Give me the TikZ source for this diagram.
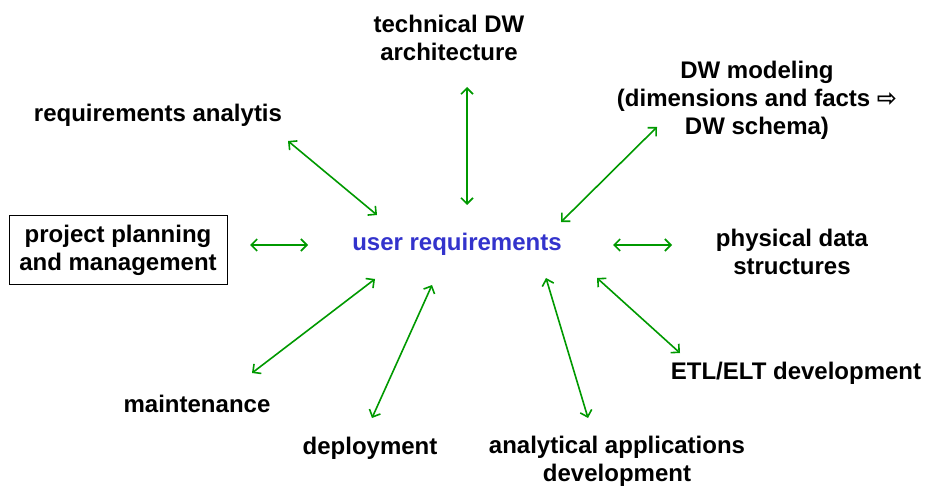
\documentclass[tikz,border=0pt]{standalone}
\usepackage{fontspec}
\setmainfont{Liberation Sans}
\newfontfamily\symfont{DejaVu Sans}
\usetikzlibrary{arrows.meta}
\definecolor{arrgreen}{RGB}{0,153,0}
\definecolor{ublue}{RGB}{51,51,204}
\tikzset{
  lbl/.style={font=\bfseries\fontsize{24}{28}\selectfont, align=center, inner sep=0pt},
  conn/.style={draw=arrgreen, line width=1.6pt, {Straight Barb[length=6pt,width=12pt]}-{Straight Barb[length=6pt,width=12pt]}}
}
\begin{document}
\begin{tikzpicture}[x=1pt,y=-1pt]
\useasboundingbox (0,0) rectangle (927,489);
\node[lbl] (tech) at (449,38) {technical DW\\architecture};
\node[lbl] (req) at (158,115) {requirements analytis};
\node[lbl] (dwm) at (757,100) {DW modeling\\(dimensions and facts {\symfont\bfseries ⇨}\\DW schema)};
\node[lbl, draw, line width=0.8pt, minimum width=218pt, minimum height=69pt] (proj) at (118,250) {project planning\\and management};
\node[lbl, text=ublue] (user) at (457,244) {user requirements};
\node[lbl] (phys) at (792,252) {physical data\\structures};
\node[lbl] (etl) at (796,373) {ETL/ELT development};
\node[lbl] (maint) at (197,404) {maintenance};
\node[lbl] (depl) at (370,448) {deployment};
\node[lbl] (anal) at (617,461) {analytical applications\\development};
\coordinate (a1) at (288,141); \coordinate (b1) at (377,215);
\coordinate (a2) at (467,87);  \coordinate (b2) at (467,205);
\coordinate (a3) at (657,127); \coordinate (b3) at (561,222);
\coordinate (a4) at (250,245); \coordinate (b4) at (308,245);
\coordinate (a5) at (613,245); \coordinate (b5) at (672,245);
\coordinate (a6) at (375,279); \coordinate (b6) at (252,373);
\coordinate (a7) at (432,285); \coordinate (b7) at (372,418);
\coordinate (a8) at (546,278); \coordinate (b8) at (588,418);
\coordinate (a9) at (597,278); \coordinate (b9) at (680,353);
\foreach \i in {1,...,9} { \draw[conn] (a\i) -- (b\i); }
\end{tikzpicture}
\end{document}
